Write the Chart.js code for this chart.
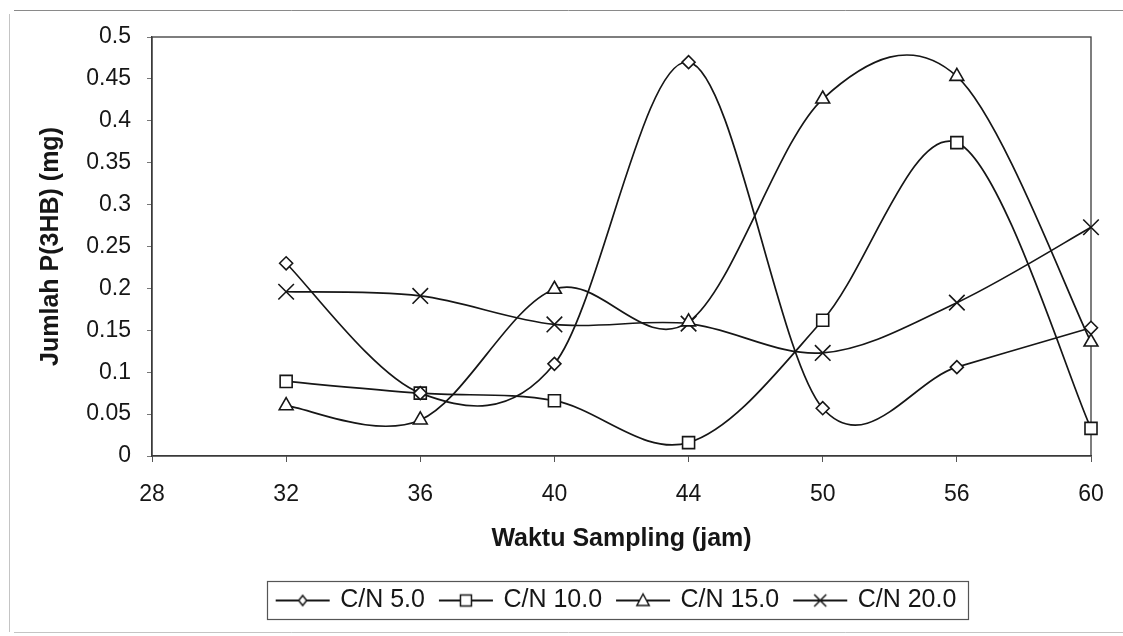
<!DOCTYPE html>
<html>
<head>
<meta charset="utf-8">
<script src="https://cdn.jsdelivr.net/npm/chart.js@4.4.1/dist/chart.umd.min.js"></script>
<style>
  html, body { margin: 0; padding: 0; background: #ffffff; }
  #wrap { width: 1123px; height: 636px; position: relative; background: #ffffff; }
</style>
</head>
<body>
<div id="wrap"><canvas id="c" width="1123" height="636"></canvas></div>
<script>
// ---------------- data ----------------
const categories = ['28', '32', '36', '40', '44', '50', '56', '60'];
const cn5  = [null, 0.230, 0.075, 0.110, 0.470, 0.057, 0.106, 0.153];
const cn10 = [null, 0.089, 0.075, 0.066, 0.016, 0.162, 0.374, 0.033];
const cn15 = [null, 0.060, 0.043, 0.199, 0.160, 0.426, 0.453, 0.136];
const cn20 = [null, 0.196, 0.191, 0.157, 0.158, 0.123, 0.183, 0.273];
const seriesNames = ['C/N 5.0', 'C/N 10.0', 'C/N 15.0', 'C/N 20.0'];
const yMin = 0, yMax = 0.5, yStep = 0.05;
const xTitle = 'Waktu Sampling (jam)';
const yTitle = 'Jumlah P(3HB) (mg)';

// ---------------- styles ----------------
const FONT = "'Liberation Sans', Arial, sans-serif";
const INK = '#161616';
const markerStyles = ['rectRot', 'rect', 'triangle', 'crossRot'];
const markerRadii = [6.5, 8.5, 8, 11];
const legendMarker = [{t: 'diamond', r: 5}, {t: 'square', r: 5.5}, {t: 'triangle', r: 6.5}, {t: 'x', r: 6}];

function makeIcon(kind, r) {
  const c = document.createElement('canvas');
  c.width = 56; c.height = 24;
  const ctx = c.getContext('2d');
  ctx.strokeStyle = INK; ctx.lineWidth = 1.8; ctx.fillStyle = '#fff';
  ctx.beginPath(); ctx.moveTo(1, 12); ctx.lineTo(55, 12); ctx.stroke();
  const x = 28, y = 12;
  ctx.lineWidth = 1.5;
  ctx.beginPath();
  if (kind === 'diamond') {
    ctx.moveTo(x, y - r); ctx.lineTo(x + r * 0.8, y); ctx.lineTo(x, y + r); ctx.lineTo(x - r * 0.8, y); ctx.closePath();
    ctx.fill(); ctx.stroke();
  } else if (kind === 'square') {
    ctx.rect(x - r, y - r, 2 * r, 2 * r); ctx.fill(); ctx.stroke();
  } else if (kind === 'triangle') {
    ctx.moveTo(x, y - r); ctx.lineTo(x + r * 0.95, y + r * 0.75); ctx.lineTo(x - r * 0.95, y + r * 0.75); ctx.closePath();
    ctx.fill(); ctx.stroke();
  } else {
    ctx.moveTo(x - r, y - r); ctx.lineTo(x + r, y + r);
    ctx.moveTo(x + r, y - r); ctx.lineTo(x - r, y + r); ctx.stroke();
  }
  return c;
}
const legendIcons = legendMarker.map(m => makeIcon(m.t, m.r));

const seriesData = [cn5, cn10, cn15, cn20];
const datasets = seriesData.map((d, i) => ({
  label: seriesNames[i],
  data: d,
  borderColor: INK,
  backgroundColor: '#ffffff',
  borderWidth: 1.7,
  tension: 0.4,
  pointStyle: markerStyles[i],
  pointRadius: markerRadii[i],
  pointHoverRadius: markerRadii[i],
  pointBorderWidth: 1.6,
  pointBackgroundColor: '#ffffff',
  pointBorderColor: INK,
  fill: false,
  clip: false
}));

// ---------------- plugins ----------------
// Spreadsheet-style smoothing: Bezier handles = (next - prev) / 6, computed from the
// pixel positions that the library's scales gave each point.
const sheetSmoothing = {
  id: 'sheetSmoothing',
  beforeDatasetsDraw(chart) {
    chart.data.datasets.forEach((ds, i) => {
      const meta = chart.getDatasetMeta(i);
      const line = meta.dataset;
      if (!line) return;
      line.updateControlPoints(chart.chartArea, 'x');
      const pts = meta.data.filter(p => !p.skip);
      const n = pts.length;
      for (let k = 0; k < n; k++) {
        const p = pts[k];
        const prev = pts[Math.max(0, k - 1)];
        const next = pts[Math.min(n - 1, k + 1)];
        const dx = (next.x - prev.x) / 6, dy = (next.y - prev.y) / 6;
        p.cp1x = p.x - dx; p.cp1y = p.y - dy;
        p.cp2x = p.x + dx; p.cp2y = p.y + dy;
      }
      line._pointsUpdated = true;
      line._path = undefined;
    });
  }
};

const frameAndBox = {
  id: 'frameAndBox',
  afterLayout(chart) {
    const lg = chart.legend;
    if (lg) { lg.left = 144; lg.right = 1090; lg.width = lg.right - lg.left; }
  },
  beforeDatasetsDraw(chart) {
    const {ctx, chartArea: a} = chart;
    ctx.save();
    ctx.strokeStyle = '#3a3a3a';
    ctx.lineWidth = 1.3;
    ctx.strokeRect(a.left, a.top, a.right - a.left, a.bottom - a.top);
    ctx.restore();
  },
  afterDraw(chart) {
    const ctx = chart.ctx;
    ctx.save();
    ctx.strokeStyle = '#8a8a8a'; ctx.lineWidth = 1;
    ctx.beginPath(); ctx.moveTo(14, 10.5); ctx.lineTo(1123, 10.5); ctx.stroke();
    ctx.strokeStyle = '#c4c4c4';
    ctx.beginPath(); ctx.moveTo(9.5, 14); ctx.lineTo(9.5, 632); ctx.stroke();
    ctx.beginPath(); ctx.moveTo(14, 632.5); ctx.lineTo(1123, 632.5); ctx.stroke();
    const hb = chart.legend && chart.legend.legendHitBoxes;
    if (hb && hb.length) {
      let l = Infinity, r = -Infinity, t = Infinity, b = -Infinity;
      hb.forEach(h => { l = Math.min(l, h.left); r = Math.max(r, h.left + h.width); t = Math.min(t, h.top); b = Math.max(b, h.top + h.height); });
      ctx.strokeStyle = '#555'; ctx.lineWidth = 1.2;
      ctx.strokeRect(Math.round(l - 11) + 0.5, Math.round(t - 7) + 0.5, Math.round(r - l + 22), Math.round(b - t + 13));
    }
    ctx.restore();
  }
};

new Chart(document.getElementById('c'), {
  type: 'line',
  data: { labels: categories, datasets },
  options: {
    responsive: false,
    animation: false,
    devicePixelRatio: 1,
    layout: { padding: { left: 10, top: 37, right: 32, bottom: 13 } },
    plugins: {
      tooltip: { enabled: false },
      legend: {
        display: true,
        position: 'bottom',
        align: 'center',
        labels: {
          usePointStyle: true,
          pointStyleWidth: 50,
          padding: 16,
          color: INK,
          font: { family: FONT, size: 25 },
          generateLabels: (chart) => chart.data.datasets.map((ds, i) => ({
            text: ds.label,
            pointStyle: legendIcons[i],
            fillStyle: '#fff',
            strokeStyle: INK,
            lineWidth: 0,
            hidden: false,
            datasetIndex: i,
            fontColor: INK
          }))
        }
      }
    },
    scales: {
      x: {
        type: 'category',
        offset: false,
        grid: { display: true, drawOnChartArea: false, drawTicks: true, tickLength: 6, color: '#555', offset: false },
        border: { display: true, color: '#3a3a3a', width: 1.3 },
        ticks: { color: INK, font: { family: FONT, size: 23 }, padding: 19, autoSkip: false, maxRotation: 0 },
        title: { display: true, text: xTitle, color: INK, font: { family: FONT, size: 25, weight: 'bold' }, padding: { top: 0, bottom: 18 } },
        afterFit: (s) => { s.height = 116; }
      },
      y: {
        type: 'linear',
        min: yMin, max: yMax,
        grid: { display: true, drawOnChartArea: false, drawTicks: true, tickLength: 5, color: '#777' },
        border: { display: true, color: '#3a3a3a', width: 1.3 },
        ticks: {
          stepSize: yStep,
          color: INK,
          padding: 16,
          font: { family: FONT, size: 23 },
          callback: (v) => String(parseFloat(Number(v).toFixed(2)))
        },
        title: { display: true, text: yTitle, color: INK, font: { family: FONT, size: 25, weight: 'bold' }, padding: { top: 26, bottom: 0 } },
        afterFit: (s) => { s.width = 142; }
      }
    }
  },
  plugins: [sheetSmoothing, frameAndBox]
});
</script>
</body>
</html>
